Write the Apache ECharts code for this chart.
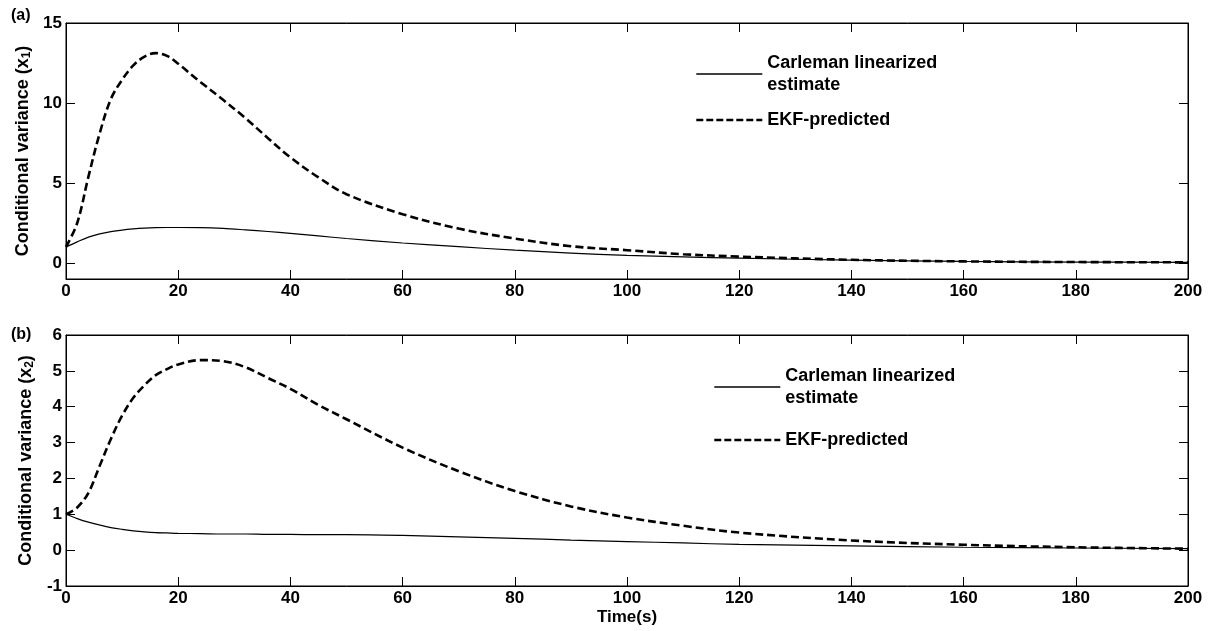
<!DOCTYPE html>
<html>
<head>
<meta charset="utf-8">
<script src="https://cdn.jsdelivr.net/npm/echarts@6/dist/echarts.min.js"></script>
<style>
	html, body { margin: 0; padding: 0; background: #fff; }
	#main { width: 1211px; height: 631px; }
</style>
</head>
<body>
<div id="main"></div>
<script>
// time points (s)
var timeS = [0, 2, 4, 6, 8, 10, 12, 14, 16, 18, 20, 24, 28, 32, 36, 40, 45, 50, 60, 70, 80, 90, 100, 110, 120, 140, 160, 180, 200];
// panel (a): x1
var carlemanX1 = [1.0, 1.32, 1.62, 1.82, 1.96, 2.06, 2.13, 2.18, 2.21, 2.22, 2.22, 2.21, 2.16, 2.07, 1.97, 1.85, 1.69, 1.53, 1.25, 1.02, 0.8, 0.62, 0.48, 0.38, 0.3, 0.18, 0.1, 0.06, 0.04];
var ekfX1 = [1.0, 2.5, 5.4, 8.1, 10.25, 11.45, 12.35, 12.9, 13.12, 12.95, 12.45, 11.3, 10.2, 9.05, 7.8, 6.6, 5.35, 4.3, 3.05, 2.15, 1.53, 1.05, 0.8, 0.55, 0.4, 0.2, 0.1, 0.06, 0.04];
// panel (b): x2
var carlemanX2 = [1.0, 0.88, 0.78, 0.7, 0.63, 0.58, 0.54, 0.51, 0.49, 0.48, 0.47, 0.46, 0.45, 0.45, 0.44, 0.44, 0.43, 0.43, 0.41, 0.37, 0.33, 0.28, 0.24, 0.2, 0.16, 0.12, 0.08, 0.06, 0.04];
var ekfX2 = [1.0, 1.19, 1.6, 2.35, 3.1, 3.75, 4.25, 4.6, 4.88, 5.05, 5.18, 5.3, 5.27, 5.1, 4.8, 4.5, 4.05, 3.65, 2.86, 2.2, 1.65, 1.22, 0.91, 0.68, 0.49, 0.27, 0.15, 0.08, 0.04];
// tick values
var xTicks = [0, 20, 40, 60, 80, 100, 120, 140, 160, 180, 200];
var yTicksA = [0, 5, 10, 15];
var yTicksB = [-1, 0, 1, 2, 3, 4, 5, 6];

var seriesNames = ['Carleman linearized\nestimate', 'EKF-predicted'];

function pairs(xs, ys) {
	var out = [];
	for (var i = 0; i < xs.length; i++) out.push([xs[i], ys[i]]);
	return out;
}

var font = 'Liberation Sans, Arial, Helvetica, sans-serif';
var labelStyle = { color: '#000', fontWeight: 'bold', fontSize: 17, fontFamily: font };
var tickStyle = { show: true, inside: true, length: 9, lineStyle: { color: '#000', width: 1 } };
var lineAx = { show: true, onZero: false, lineStyle: { color: '#000', width: 1 } };
var solidStyle = { color: '#000', width: 1.2 };
var dashStyle = { color: '#000', width: 2.6, type: [8, 4] };

var grids = [
	{ left: 66, top: 23, width: 1122, height: 256 },
	{ left: 66, top: 335, width: 1122, height: 251 }
];

function xAx(gi, pos, showLabel, name) {
	return {
		type: 'value', gridIndex: gi, position: pos,
		min: 0, max: 200, interval: 20,
		axisLine: lineAx,
		axisTick: Object.assign({ customValues: xTicks }, tickStyle),
		axisLabel: showLabel ? Object.assign({ margin: 4, customValues: xTicks }, labelStyle) : { show: false },
		splitLine: { show: false },
		name: name || '', nameLocation: 'middle', nameGap: 23,
		nameTextStyle: labelStyle
	};
}

function yAx(gi, pos, min, max, ticks, showLabel, name) {
	return {
		type: 'value', gridIndex: gi, position: pos,
		min: min, max: max,
		axisLine: lineAx,
		axisTick: Object.assign({ customValues: ticks }, tickStyle),
		axisLabel: showLabel ? Object.assign({ margin: 4, customValues: ticks }, labelStyle) : { show: false },
		splitLine: { show: false },
		name: name || '', nameLocation: 'middle', nameGap: 28,
		nameTextStyle: {
			color: '#000', fontWeight: 'bold', fontFamily: font, fontSize: 18,
			rich: { sub: { fontSize: 12, fontWeight: 'bold', fontFamily: font, color: '#000', verticalAlign: 'bottom', padding: [7, 0, 0, 0] } }
		}
	};
}

function lineSeries(name, xi, yi, data, dashed) {
	return {
		name: name, type: 'line', xAxisIndex: xi, yAxisIndex: yi,
		data: data, showSymbol: false, symbol: 'none', smooth: 0.35,
		lineStyle: dashed ? dashStyle : solidStyle,
		itemStyle: { color: '#000' },
		z: dashed ? 3 : 2
	};
}

var legendText = { color: '#000', fontWeight: 'bold', fontSize: 18, fontFamily: font, lineHeight: 22 };
var hiddenSymbol = { color: 'rgba(0,0,0,0)', borderColor: 'rgba(0,0,0,0)', borderWidth: 0 };
var legendData = [
	{ name: seriesNames[0], lineStyle: { color: '#000', width: 1.6 } },
	{ name: seriesNames[1], lineStyle: { color: '#000', width: 2.6, type: [7, 3] } }
];

var myChart = echarts.init(document.getElementById('main'));
var option = {
	backgroundColor: '#fff',
	animation: false,
	grid: grids.map(function (g) { return Object.assign({ show: true, borderColor: '#000', borderWidth: 1, backgroundColor: '#fff' }, g); }),
	xAxis: [
		xAx(0, 'bottom', true),
		xAx(0, 'top', false),
		xAx(1, 'bottom', true, 'Time(s)'),
		xAx(1, 'top', false)
	],
	yAxis: [
		yAx(0, 'left', -1, 15, yTicksA, true, 'Conditional variance (x{sub|1})'),
		yAx(0, 'right', -1, 15, yTicksA, false),
		yAx(1, 'left', -1, 6, yTicksB, true, 'Conditional variance (x{sub|2})'),
		yAx(1, 'right', -1, 6, yTicksB, false)
	],
	legend: [
		{
			data: legendData, orient: 'vertical', left: 695, top: 52, padding: 0,
			itemWidth: 66, itemHeight: 14, itemGap: 13, selectedMode: false,
			itemStyle: hiddenSymbol, textStyle: legendText
		},
		{
			data: legendData, orient: 'vertical', left: 713, top: 365, padding: 0,
			itemWidth: 66, itemHeight: 14, itemGap: 20, selectedMode: false,
			itemStyle: hiddenSymbol, textStyle: legendText
		}
	],
	graphic: [
		{ type: 'text', left: 11, top: 8, style: { text: '(a)', fill: '#000', font: 'bold 16px ' + font } },
		{ type: 'text', left: 11, top: 327, style: { text: '(b)', fill: '#000', font: 'bold 16px ' + font } }
	],
	series: [
		lineSeries(seriesNames[0], 0, 0, pairs(timeS, carlemanX1), false),
		lineSeries(seriesNames[1], 0, 0, pairs(timeS, ekfX1), true),
		lineSeries(seriesNames[0], 2, 2, pairs(timeS, carlemanX2), false),
		lineSeries(seriesNames[1], 2, 2, pairs(timeS, ekfX2), true)
	]
};
myChart.setOption(option);
</script>
</body>
</html>
